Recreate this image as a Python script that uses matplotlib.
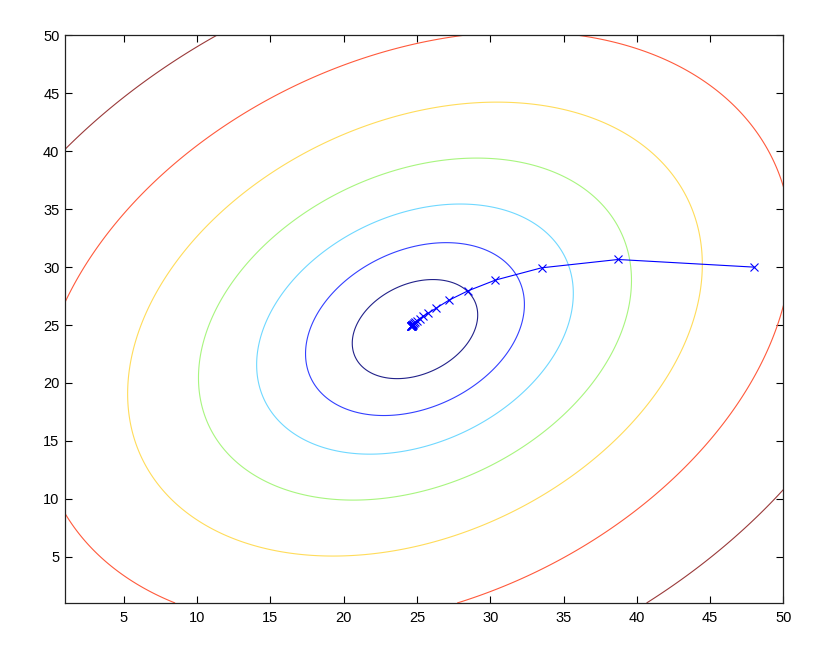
import numpy as np
import matplotlib
matplotlib.use("Agg")
import matplotlib.pyplot as plt

plt.rcParams['font.family'] = ['Liberation Sans', 'DejaVu Sans']

# ---- data ----
# quadratic bowl: centre, x-y coupling, and contour levels (squared "radius")
center_x = 24.87
center_y = 24.65
coupling = 0.285
contour_levels = [18.3, 55.7, 116.6, 218.0, 384.0, 660.0, 1112.0]
contour_colors = ['#22228a', '#3340ff', '#6fd8ff', '#a8f57f', '#ffdc5a', '#ff5a3c', '#9a3a3a']

# descent path (x markers)
path_x = [48.0, 38.72, 33.50, 30.35, 28.46, 27.18, 26.33, 25.78, 25.42, 25.18,
          25.01, 24.90, 24.82, 24.76, 24.72, 24.69, 24.67, 24.66, 24.65, 24.64,
          24.63, 24.63, 24.62, 24.62]
path_y = [30.0, 30.66, 29.94, 28.88, 27.94, 27.14, 26.47, 26.03, 25.76, 25.54,
          25.36, 25.23, 25.14, 25.08, 25.04, 25.01, 24.99, 24.97, 24.96, 24.95,
          24.95, 24.94, 24.94, 24.94]

x_ticks = [5, 10, 15, 20, 25, 30, 35, 40, 45, 50]
y_ticks = [5, 10, 15, 20, 25, 30, 35, 40, 45, 50]
x_lim = (1, 50)
y_lim = (1, 50)

# ---- figure ----
fig = plt.figure(figsize=(8.34, 6.5), dpi=100)
ax = fig.add_axes([0.0779, 0.0723, 0.8615, 0.8731])

gx = np.linspace(x_lim[0], x_lim[1], 400)
gy = np.linspace(y_lim[0], y_lim[1], 400)
X, Y = np.meshgrid(gx, gy)
dx = X - center_x
dy = Y - center_y
Z = (dx**2 - 2 * coupling * dx * dy + dy**2) / (1 - coupling**2)

ax.contour(X, Y, Z, levels=contour_levels, colors=contour_colors, linewidths=0.8)

ax.plot(path_x, path_y, color='#0000ff', marker='x', markersize=6,
        markeredgewidth=0.8, linewidth=0.8)

ax.set_xlim(*x_lim)
ax.set_ylim(*y_lim)
ax.set_xticks(x_ticks)
ax.set_yticks(y_ticks)
ax.tick_params(direction='in', length=5, width=0.8, top=True, right=True,
               labelsize=10.5, colors='black')
ax.tick_params(axis='x', pad=5.5)
ax.tick_params(axis='y', pad=4)
for s in ax.spines.values():
    s.set_linewidth(0.9)
    s.set_color('#222222')

fig.savefig('out.png', dpi=100)
